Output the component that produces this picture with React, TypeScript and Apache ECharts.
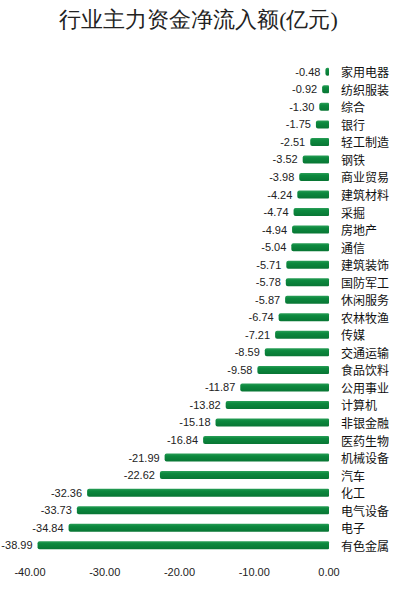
import React, { useEffect, useRef } from "react";
import * as echarts from "echarts";

const categories: string[] = [
  "家用电器", "纺织服装", "综合", "银行", "轻工制造", "钢铁", "商业贸易", "建筑材料",
  "采掘", "房地产", "通信", "建筑装饰", "国防军工", "休闲服务", "农林牧渔", "传媒",
  "交通运输", "食品饮料", "公用事业", "计算机", "非银金融", "医药生物", "机械设备", "汽车",
  "化工", "电气设备", "电子", "有色金属",
];

const values: number[] = [
  -0.48, -0.92, -1.3, -1.75, -2.51, -3.52, -3.98, -4.24,
  -4.74, -4.94, -5.04, -5.71, -5.78, -5.87, -6.74, -7.21,
  -8.59, -9.58, -11.87, -13.82, -15.18, -16.84, -21.99, -22.62,
  -32.36, -33.73, -34.84, -38.99,
];

const titleText = "行业主力资金净流入额(亿元)";

export default function App() {
  const ref = useRef<HTMLDivElement>(null);
  useEffect(() => {
    if (!ref.current) return;
    const chart = echarts.init(ref.current, undefined, { renderer: "svg" });
    chart.setOption({
      animation: false,
      backgroundColor: "#ffffff",
      title: {
        text: titleText,
        left: "center",
        top: 3,
        textStyle: {
          fontFamily: "serif",
          fontWeight: "normal",
          fontSize: 22,
          color: "#222",
        },
      },
      grid: { left: 30, right: 68, top: 63, bottom: 35, containLabel: false },
      xAxis: {
        type: "value",
        min: -40,
        max: 0,
        interval: 10,
        axisLine: { show: false },
        axisTick: { show: false },
        splitLine: { show: false },
        axisLabel: {
          formatter: (v: number) => v.toFixed(2),
          fontSize: 11,
          color: "#222",
          margin: 12,
          fontFamily: "Liberation Sans, Arial, sans-serif",
        },
      },
      yAxis: {
        type: "category",
        data: categories,
        inverse: true,
        position: "right",
        axisLine: { show: false },
        axisTick: { show: false },
        splitLine: { show: false },
        axisLabel: {
          fontSize: 12,
          color: "#111",
          margin: 12,
          fontFamily: "Noto Sans CJK SC, sans-serif",
        },
      },
      series: [
        {
          type: "bar",
          data: values,
          barWidth: 8,
          itemStyle: {
            color: new echarts.graphic.LinearGradient(0, 0, 0, 1, [
              { offset: 0, color: "#2a9f58" },
              { offset: 0.3, color: "#0c893e" },
              { offset: 1, color: "#087634" },
            ]),
            borderRadius: [2, 1, 1, 2],
          },
          label: {
            show: true,
            position: "left",
            distance: 5,
            formatter: (p: any) => p.value.toFixed(2),
            fontSize: 11,
            color: "#222",
            fontFamily: "Liberation Sans, Arial, sans-serif",
          },
        },
      ],
    });
    return () => chart.dispose();
  }, []);
  return (
    <div
      ref={ref}
      style={{ position: "fixed", left: 0, top: 0, width: 397, height: 589, background: "#fff" }}
    />
  );
}
